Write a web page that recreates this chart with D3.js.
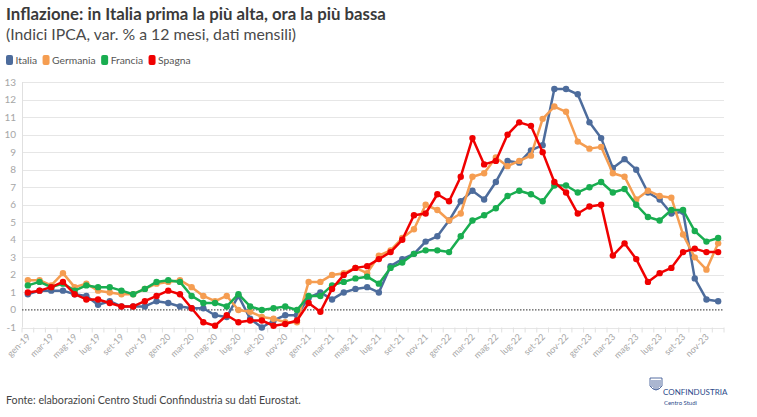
<!DOCTYPE html>
<html><head><meta charset="utf-8">
<script src="https://cdn.jsdelivr.net/npm/d3@7"></script>
<style>
body{margin:0;background:#fff;}
svg{display:block;font-family:"Source Sans Pro",Lato,"Open Sans",sans-serif;}
</style></head>
<body><svg id="c" width="757" height="417"></svg>
<script>
const monthNames = ["gen","feb","mar","apr","mag","giu","lug","ago","set","ott","nov","dic"];
const years = ["19","20","21","22","23"];
const months = years.flatMap(y => monthNames.map(m => m + "-" + y));
const seriesNames = ["Italia","Germania","Francia","Spagna"];
const seriesColors = ["#4d6c9c","#f59d51","#19ad50","#f00000"];
const italia = [0.9,1.1,1.1,1.1,0.9,0.8,0.3,0.5,0.2,0.2,0.2,0.5,
  0.4,0.2,0.1,0.1,-0.3,-0.4,0.8,-0.5,-1.0,-0.6,-0.3,-0.3,
  0.7,1.0,0.6,1.0,1.2,1.3,1.0,2.5,2.9,3.2,3.9,4.2,
  5.1,6.2,6.8,6.3,7.3,8.5,8.4,9.1,9.4,12.6,12.6,12.3,
  10.7,9.8,8.1,8.6,8.0,6.7,6.3,5.5,5.6,1.8,0.6,0.5];
const germania = [1.7,1.7,1.4,2.1,1.3,1.5,1.1,1.0,0.9,0.9,1.2,1.5,
  1.6,1.7,1.3,0.8,0.5,0.8,0.0,-0.1,-0.4,-0.5,-0.7,-0.7,
  1.6,1.6,2.0,2.1,2.4,2.1,3.1,3.4,4.1,4.6,6.0,5.7,
  5.1,5.5,7.6,7.8,8.7,8.2,8.5,8.8,10.9,11.6,11.3,9.6,
  9.2,9.3,7.8,7.6,6.3,6.8,6.5,6.4,4.3,3.0,2.3,3.8];
const francia = [1.4,1.6,1.3,1.5,1.1,1.4,1.3,1.3,1.1,0.9,1.2,1.6,
  1.7,1.6,0.8,0.4,0.4,0.2,0.9,0.2,0.0,0.1,0.2,0.0,
  0.8,0.8,1.4,1.6,1.8,1.9,1.5,2.4,2.7,3.2,3.4,3.4,
  3.3,4.2,5.1,5.4,5.8,6.5,6.8,6.6,6.2,7.1,7.1,6.7,
  7.0,7.3,6.7,6.9,6.0,5.3,5.1,5.7,5.7,4.5,3.9,4.1];
const spagna = [1.0,1.1,1.3,1.6,0.9,0.6,0.6,0.4,0.2,0.2,0.5,0.8,
  1.1,0.9,0.1,-0.7,-0.9,-0.3,-0.7,-0.6,-0.6,-0.9,-0.8,-0.6,
  0.4,-0.1,1.2,2.0,2.4,2.5,2.9,3.3,4.0,5.4,5.5,6.6,
  6.2,7.6,9.8,8.3,8.5,10.0,10.7,10.5,9.0,7.3,6.7,5.5,
  5.9,6.0,3.1,3.8,2.9,1.6,2.1,2.4,3.3,3.5,3.3,3.3];
const seriesValues = [italia, germania, francia, spagna];
const yTicks = d3.range(-1, 14);

const svg = d3.select("#c");
const pLeft = 22, pRight = 724, pTop = 82, pBottom = 327.5;
const x = d3.scaleBand().domain(months).range([pLeft, pRight]);
const y = d3.scaleLinear().domain([-1, 13]).range([pBottom, pTop]);
const cx = m => x(m) + x.bandwidth() / 2;

// title
svg.append("text").attr("x", 6).attr("y", 20).attr("font-size", 16.8).attr("font-weight", "bold")
  .attr("fill", "#3a3a3a").text("Inflazione: in Italia prima la più alta, ora la più bassa");
svg.append("text").attr("x", 6).attr("y", 40).attr("font-size", 15.8).attr("fill", "#4a4a4a")
  .text("(Indici IPCA, var. % a 12 mesi, dati mensili)");

// legend
let lx = 6;
const lg = svg.append("g");
seriesNames.forEach((n, i) => {
  lg.append("rect").attr("x", lx).attr("y", 55).attr("width", 7).attr("height", 10).attr("rx", 2)
    .attr("fill", seriesColors[i]);
  const t = lg.append("text").attr("x", lx + 9.5).attr("y", 64).attr("font-size", 10.3).attr("fill", "#555").text(n);
  lx += 9.5 + t.node().getComputedTextLength() + 5.5;
});

// grid
svg.append("g").selectAll("line").data(yTicks).join("line")
  .attr("x1", pLeft).attr("x2", pRight).attr("y1", d => Math.round(y(d)) + 0.5).attr("y2", d => Math.round(y(d)) + 0.5)
  .attr("stroke", d => d === 0 ? "none" : "#e6e6e6").attr("stroke-width", 1);
// y labels
svg.append("g").selectAll("text").data(yTicks).join("text")
  .attr("x", 16).attr("y", d => y(d) + 3.5).attr("text-anchor", "end").attr("font-size", 10).attr("fill", "#a6a6a6")
  .text(d => d);
// left axis line
svg.append("line").attr("x1", pLeft + 0.5).attr("x2", pLeft + 0.5).attr("y1", pTop).attr("y2", pBottom)
  .attr("stroke", "#e0e0e0");
// bottom ticks
svg.append("g").selectAll("line").data(months.concat(["_end"])).join("line")
  .attr("x1", (d, i) => pLeft + i * x.bandwidth()).attr("x2", (d, i) => pLeft + i * x.bandwidth())
  .attr("y1", pBottom).attr("y2", pBottom + 5).attr("stroke", "#e0e0e0");
// zero line
svg.append("line").attr("x1", pLeft).attr("x2", pRight).attr("y1", y(0)).attr("y2", y(0))
  .attr("stroke", "#555").attr("stroke-width", 1.3).attr("stroke-dasharray", "1.5,1.5");
// x labels
svg.append("g").selectAll("text").data(months.filter((m, i) => i % 2 === 0)).join("text")
  .attr("transform", d => `translate(${cx(d) + 3},${pBottom + 10}) rotate(-45)`)
  .attr("text-anchor", "end").attr("font-size", 9).attr("fill", "#a6a6a6").text(d => d);

// lines
const line = d3.line().x((d, i) => cx(months[i])).y(d => y(d));
seriesValues.forEach((vals, s) => {
  const g = svg.append("g");
  g.append("path").datum(vals).attr("d", line).attr("fill", "none").attr("stroke", seriesColors[s])
    .attr("stroke-width", 2.5).attr("stroke-linejoin", "round");
  g.selectAll("circle").data(vals).join("circle").attr("cx", (d, i) => cx(months[i])).attr("cy", d => y(d))
    .attr("r", 3.2).attr("fill", seriesColors[s]);
});

// footer
svg.append("text").attr("x", 6).attr("y", 404).attr("font-size", 10.7).attr("fill", "#444")
  .text("Fonte: elaborazioni Centro Studi Confindustria su dati Eurostat.");
// logo
const logo = svg.append("g").attr("fill", "none").attr("stroke", "#2b4a8a").attr("stroke-width", 0.8);
logo.append("path").attr("d", "M650,378 L662,378 L662,386 Q656,394 650,386 Z");
logo.append("path").attr("d", "M652,380 L652,387 M654,380 L654,389 M656,380 L656,390 M658,380 L658,389 M660,380 L660,387");
svg.append("text").attr("x", 663).attr("y", 395).attr("font-size", 8).attr("fill", "#2b4a8a").text("CONFINDUSTRIA");
svg.append("text").attr("x", 664).attr("y", 405).attr("font-size", 6).attr("fill", "#2b4a8a").text("Centro Studi");
</script></body></html>
